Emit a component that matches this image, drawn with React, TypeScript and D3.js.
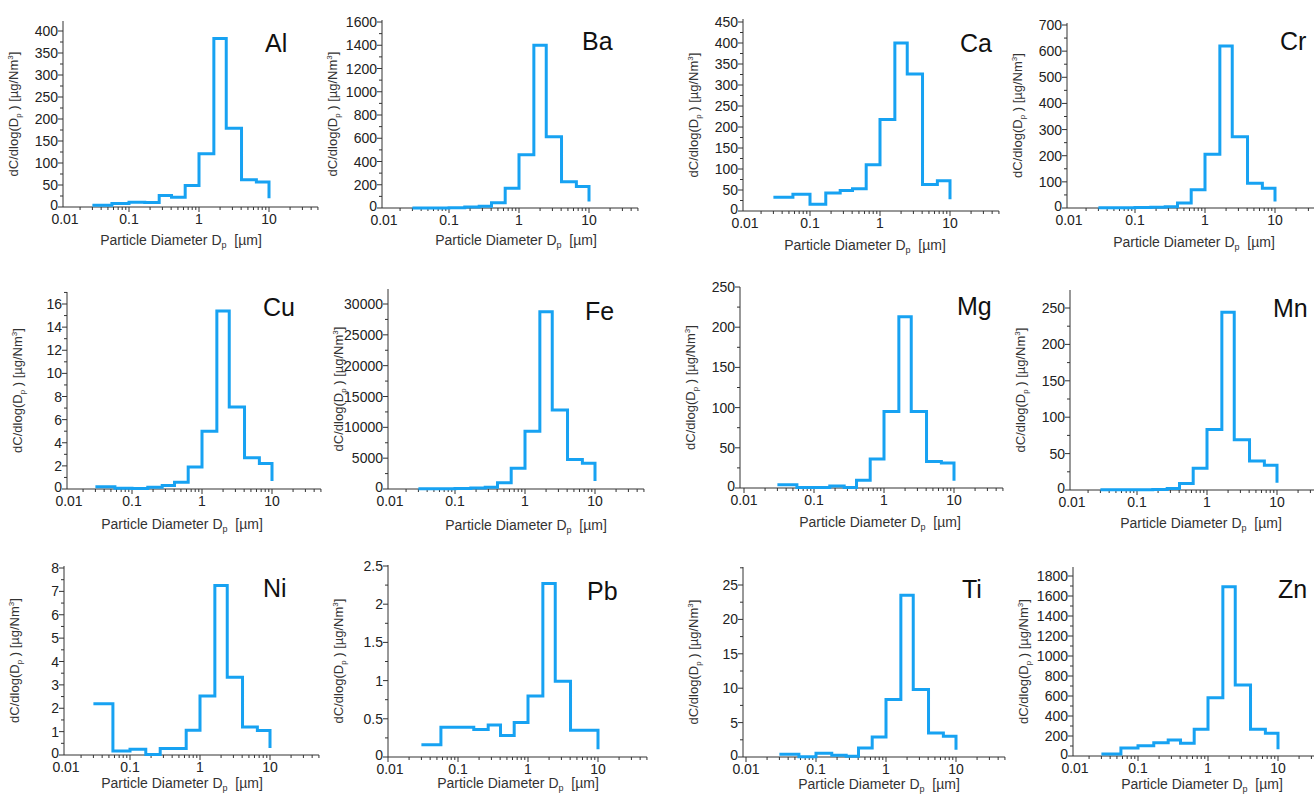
import { useEffect, useRef } from 'react';
import * as d3 from 'd3';

// ELPI stage cut-points (µm); the last value of each series is the end point at 10 µm
const EDGES = [0.03, 0.057, 0.1, 0.168, 0.27, 0.405, 0.635, 1.0, 1.63, 2.45, 4.05, 6.6, 10];

const ELEMENTS = ['Al', 'Ba', 'Ca', 'Cr', 'Cu', 'Fe', 'Mg', 'Mn', 'Ni', 'Pb', 'Ti', 'Zn'];

const alValues = [4, 8, 11, 10, 26, 22, 49, 121, 383, 179, 62, 57, 20];
const baValues = [0, 0, 2, 8, 15, 45, 170, 457, 1400, 612, 226, 186, 55];
const caValues = [33, 40, 16, 43, 49, 53, 110, 218, 400, 326, 63, 72, 28];
const crValues = [1, 1, 2, 3, 5, 19, 70, 206, 620, 273, 95, 76, 25];
const cuValues = [0.2, 0.06, 0.05, 0.15, 0.3, 0.58, 1.9, 5.0, 15.4, 7.1, 2.7, 2.2, 0.7];
const feValues = [50, 50, 100, 160, 300, 1000, 3350, 9370, 28750, 12830, 4800, 4170, 1300];
const mgValues = [4, 0.5, 0.5, 2.5, 0.5, 9.5, 36, 95, 213, 95, 33, 31, 9];
const mnValues = [0.5, 0.5, 0.5, 0.8, 2, 9, 30, 83, 244, 69, 40, 34, 10];
const niValues = [2.19, 0.17, 0.25, 0.02, 0.28, 0.28, 1.06, 2.52, 7.25, 3.33, 1.2, 1.05, 0.3];
const pbValues = [0.16, 0.39, 0.39, 0.36, 0.42, 0.28, 0.45, 0.8, 2.27, 0.99, 0.35, 0.35, 0.1];
const tiValues = [0.4, 0.05, 0.55, 0.25, 0.1, 1.3, 2.9, 8.35, 23.5, 9.8, 3.5, 3.0, 1.07];
const znValues = [20, 80, 103, 133, 160, 127, 267, 583, 1693, 710, 267, 227, 67];

const SERIES = [alValues, baValues, caValues, crValues, cuValues, feValues,
  mgValues, mnValues, niValues, pbValues, tiValues, znValues];

const Y_TICK_MAX = [400, 1600, 450, 700, 16, 30000, 250, 250, 8, 2.5, 25, 1800];
const Y_TICK_STEP = [50, 200, 50, 100, 2, 5000, 50, 50, 1, 0.5, 5, 200];
const X_TICKS = [0.01, 0.1, 1, 10];
const X_DOMAIN = [0.01, 50];

// pixel layout of each panel
const LAYOUT = [
  { ax: 63, x1: 199, bottom: 207, tickPx: 31, top: 21, lx: 265, ly: 52, xlx: 181, xly: 245 },
  { ax: 382, x1: 519, bottom: 208, tickPx: 22, top: 20, lx: 582, ly: 50, xlx: 516, xly: 245 },
  { ax: 743, x1: 880, bottom: 211, tickPx: 22, top: 19, lx: 960, ly: 52, xlx: 865, xly: 250 },
  { ax: 1067, x1: 1205, bottom: 208, tickPx: 25, top: 23, lx: 1280, ly: 50, xlx: 1194, xly: 247 },
  { ax: 67, x1: 202, bottom: 489, tickPx: 304, top: 292, lx: 263, ly: 316, xlx: 182, xly: 529 },
  { ax: 388, x1: 525, bottom: 489, tickPx: 304, top: 289, lx: 585, ly: 320, xlx: 526, xly: 530 },
  { ax: 740, x1: 884, bottom: 488, tickPx: 287, top: 287, lx: 957, ly: 315, xlx: 880, xly: 527 },
  { ax: 1070, x1: 1207, bottom: 490, tickPx: 308, top: 290, lx: 1273, ly: 317, xlx: 1201, xly: 528 },
  { ax: 64, x1: 200, bottom: 755, tickPx: 568, top: 566, lx: 263, ly: 597, xlx: 182, xly: 788 },
  { ax: 388, x1: 528, bottom: 757, tickPx: 566, top: 565, lx: 587, ly: 600, xlx: 518, xly: 788 },
  { ax: 743, x1: 886, bottom: 757, tickPx: 585, top: 567, lx: 962, ly: 598, xlx: 879, xly: 789 },
  { ax: 1073, x1: 1208, bottom: 756, tickPx: 576, top: 567, lx: 1278, ly: 598, xlx: 1202, xly: 789 },
];

const DECADE = 70;
const FONT = "'Liberation Sans', Arial, sans-serif";
const LINE_COLOR = '#17a2f2';
const AXIS_COLOR = '#333';

export default function App() {
  const svgRef = useRef<SVGSVGElement | null>(null);

  useEffect(() => {
    if (!svgRef.current) return;
    const svg = d3.select(svgRef.current);
    svg.selectAll('*').remove();

    svg.append('rect').attr('width', 1314).attr('height', 794).attr('fill', '#fff');

    ELEMENTS.forEach((name, i) => {
      const L = LAYOUT[i];
      const values = SERIES[i];
      const g = svg.append('g');

      const x = d3.scaleLog()
        .domain(X_DOMAIN)
        .range([L.x1 - 2 * DECADE, L.x1 + Math.log10(X_DOMAIN[1]) * DECADE]);
      const y = d3.scaleLinear()
        .domain([0, Y_TICK_MAX[i]])
        .range([L.bottom, L.tickPx]);
      const xEnd = x(X_DOMAIN[1]);

      // axis lines
      g.append('line')
        .attr('x1', L.ax).attr('x2', xEnd)
        .attr('y1', L.bottom).attr('y2', L.bottom)
        .attr('stroke', AXIS_COLOR).attr('stroke-width', 1);
      g.append('line')
        .attr('x1', L.ax).attr('x2', L.ax)
        .attr('y1', L.bottom).attr('y2', L.top)
        .attr('stroke', AXIS_COLOR).attr('stroke-width', 1);

      // x minor ticks
      const minor: number[] = [];
      for (let dec = 0.01; dec < 50; dec *= 10) {
        for (let m = 2; m <= 9; m++) {
          const v = dec * m;
          if (v <= X_DOMAIN[1]) minor.push(v);
        }
      }
      g.selectAll('.xminor').data(minor).enter().append('line')
        .attr('x1', d => x(d)).attr('x2', d => x(d))
        .attr('y1', L.bottom).attr('y2', L.bottom + 3)
        .attr('stroke', AXIS_COLOR).attr('stroke-width', 1);
      g.selectAll('.xmajor').data(X_TICKS.filter(d => x(d) >= L.ax)).enter().append('line')
        .attr('x1', d => x(d)).attr('x2', d => x(d))
        .attr('y1', L.bottom).attr('y2', L.bottom + 5)
        .attr('stroke', AXIS_COLOR).attr('stroke-width', 1);
      g.selectAll('.xlab').data(X_TICKS).enter().append('text')
        .attr('x', d => Math.max(x(d), L.ax + 2))
        .attr('y', L.bottom + 17)
        .attr('text-anchor', 'middle')
        .attr('font-family', FONT).attr('font-size', 14).attr('fill', '#222')
        .text(d => String(d));

      // y ticks
      const step = Y_TICK_STEP[i];
      const yMaxVisible = y.invert(L.top);
      const majors = d3.range(0, Y_TICK_MAX[i] + step / 2, step);
      const minors = d3.range(step / 2, yMaxVisible, step);
      g.selectAll('.yminor').data(minors).enter().append('line')
        .attr('x1', L.ax - 3).attr('x2', L.ax)
        .attr('y1', d => y(d)).attr('y2', d => y(d))
        .attr('stroke', AXIS_COLOR).attr('stroke-width', 1);
      g.selectAll('.ymajor').data(majors).enter().append('line')
        .attr('x1', L.ax - 5).attr('x2', L.ax)
        .attr('y1', d => y(d)).attr('y2', d => y(d))
        .attr('stroke', AXIS_COLOR).attr('stroke-width', 1);
      g.selectAll('.ylab').data(majors).enter().append('text')
        .attr('x', L.ax - 5)
        .attr('y', d => y(d) + (d === 0 ? 3 : 5))
        .attr('text-anchor', 'end')
        .attr('font-family', FONT).attr('font-size', 14).attr('fill', '#222')
        .text(d => String(d));

      // step line
      const line = d3.line<number>()
        .x((_, k) => x(EDGES[k]))
        .y(d => y(d))
        .curve(d3.curveStepAfter);
      g.append('path')
        .attr('d', line(values))
        .attr('fill', 'none')
        .attr('stroke', LINE_COLOR)
        .attr('stroke-width', 3);

      // element name
      g.append('text')
        .attr('x', L.lx).attr('y', L.ly)
        .attr('font-family', FONT).attr('font-size', 25).attr('fill', '#111')
        .text(name);

      // x axis title
      const xt = g.append('text')
        .attr('x', L.xlx).attr('y', L.xly)
        .attr('text-anchor', 'middle')
        .attr('font-family', FONT).attr('font-size', 14).attr('fill', '#333');
      xt.append('tspan').text('Particle Diameter D');
      xt.append('tspan').attr('font-size', 9).attr('dy', 3).text('p');
      xt.append('tspan').attr('dy', -3).text('\u00a0\u00a0[µm]');

      // y axis title
      const cy = (L.bottom + L.top) / 2;
      const yt = g.append('text')
        .attr('transform', `translate(${L.ax - 45},${cy}) rotate(-90)`)
        .attr('text-anchor', 'middle')
        .attr('font-family', FONT).attr('font-size', 13).attr('fill', '#333');
      yt.append('tspan').text('dC/dlog(D');
      yt.append('tspan').attr('font-size', 8).attr('dy', 3).text('p');
      yt.append('tspan').attr('dy', -3).text('\u00a0) [µg/Nm');
      yt.append('tspan').attr('font-size', 8).attr('dy', -5).text('3');
      yt.append('tspan').attr('dy', 5).text(']');
    });
  }, []);

  return (
    <svg
      ref={svgRef}
      width={1314}
      height={794}
      style={{ position: 'absolute', left: 0, top: 0, display: 'block' }}
    />
  );
}
